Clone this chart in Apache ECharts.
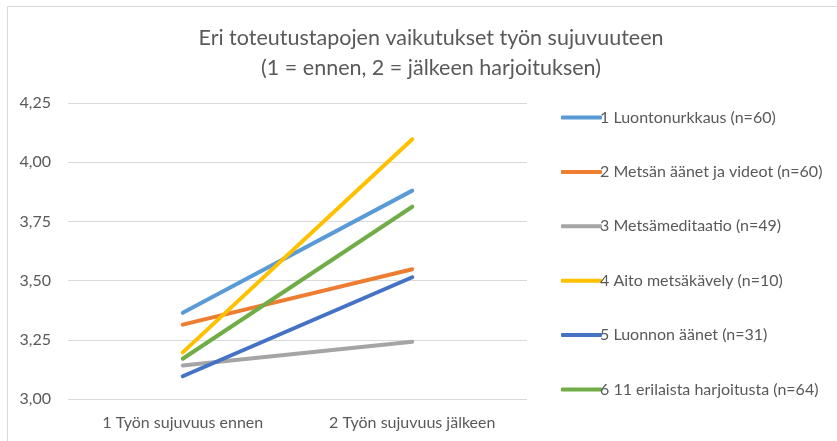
<!DOCTYPE html>
<html>
<head>
<meta charset="utf-8">
<script src="https://cdn.jsdelivr.net/npm/echarts@6/dist/echarts.min.js"></script>
<style>html,body{margin:0;padding:0;background:#fff;}#c{width:837px;height:441px;}</style>
</head>
<body>
<div id="c"></div>
<script>
const categories = ['1 Työn sujuvuus ennen', '2 Työn sujuvuus jälkeen'];
const seriesNames = [
  '1 Luontonurkkaus (n=60)',
  '2 Metsän äänet ja videot (n=60)',
  '3 Metsämeditaatio (n=49)',
  '4 Aito metsäkävely (n=10)',
  '5 Luonnon äänet (n=31)',
  '6 11 erilaista harjoitusta (n=64)'
];
const s1 = [3.364, 3.880];
const s2 = [3.314, 3.548];
const s3 = [3.141, 3.242];
const s4 = [3.197, 4.097];
const s5 = [3.096, 3.514];
const s6 = [3.170, 3.812];
const yTicks = [3.00, 3.25, 3.50, 3.75, 4.00, 4.25];
const colors = ['#5B9BD5', '#ED7D31', '#A5A5A5', '#FFC000', '#4472C4', '#70AD47'];
const values = [s1, s2, s3, s4, s5, s6];

const FONT = 'Lato';
const chart = echarts.init(document.getElementById('c'));
chart.setOption({
  animation: false,
  title: {
    text: 'Eri toteutustapojen vaikutukset työn sujuvuuteen\n(1 = ennen, 2 = jälkeen harjoituksen)',
    left: 426,
    top: 18,
    textAlign: 'center',
    textStyle: { fontFamily: FONT, fontSize: 21.5, fontWeight: 'normal', color: '#595959', lineHeight: 30 }
  },
  grid: { left: 68, right: 310, top: 103, bottom: 42, containLabel: false },
  legend: {
    orient: 'vertical',
    left: 556,
    top: 102.5,
    itemWidth: 41,
    itemHeight: 4,
    itemGap: 34.4,
    icon: 'roundRect',
    data: seriesNames,
    textStyle: { fontFamily: FONT, fontSize: 16, color: '#595959', lineHeight: 20, padding: [0, 0, 0, -7] }
  },
  xAxis: {
    type: 'category',
    data: categories,
    boundaryGap: true,
    axisLine: { show: false },
    axisTick: { show: false },
    axisLabel: { fontFamily: FONT, fontSize: 16, color: '#595959', margin: 16 }
  },
  yAxis: {
    type: 'value',
    min: yTicks[0],
    max: yTicks[yTicks.length - 1],
    interval: 0.25,
    axisLine: { show: false },
    axisTick: { show: false },
    splitLine: { lineStyle: { color: '#D9D9D9', width: 1 } },
    axisLabel: {
      fontFamily: FONT, fontSize: 16, color: '#595959', margin: 17,
      formatter: v => v.toFixed(2).replace('.', ',')
    }
  },
  series: values.map((d, i) => ({
    name: seriesNames[i],
    type: 'line',
    data: d,
    symbol: 'none',
    color: colors[i],
    lineStyle: { width: 4, color: colors[i], cap: 'round' }
  })),
  graphic: [
    { type: 'line', shape: { x1: 7, y1: 6.5, x2: 837, y2: 6.5 }, style: { stroke: '#D9D9D9', lineWidth: 1 } },
    { type: 'line', shape: { x1: 7.5, y1: 6, x2: 7.5, y2: 441 }, style: { stroke: '#D9D9D9', lineWidth: 1 } }
  ]
});
</script>
</body>
</html>
